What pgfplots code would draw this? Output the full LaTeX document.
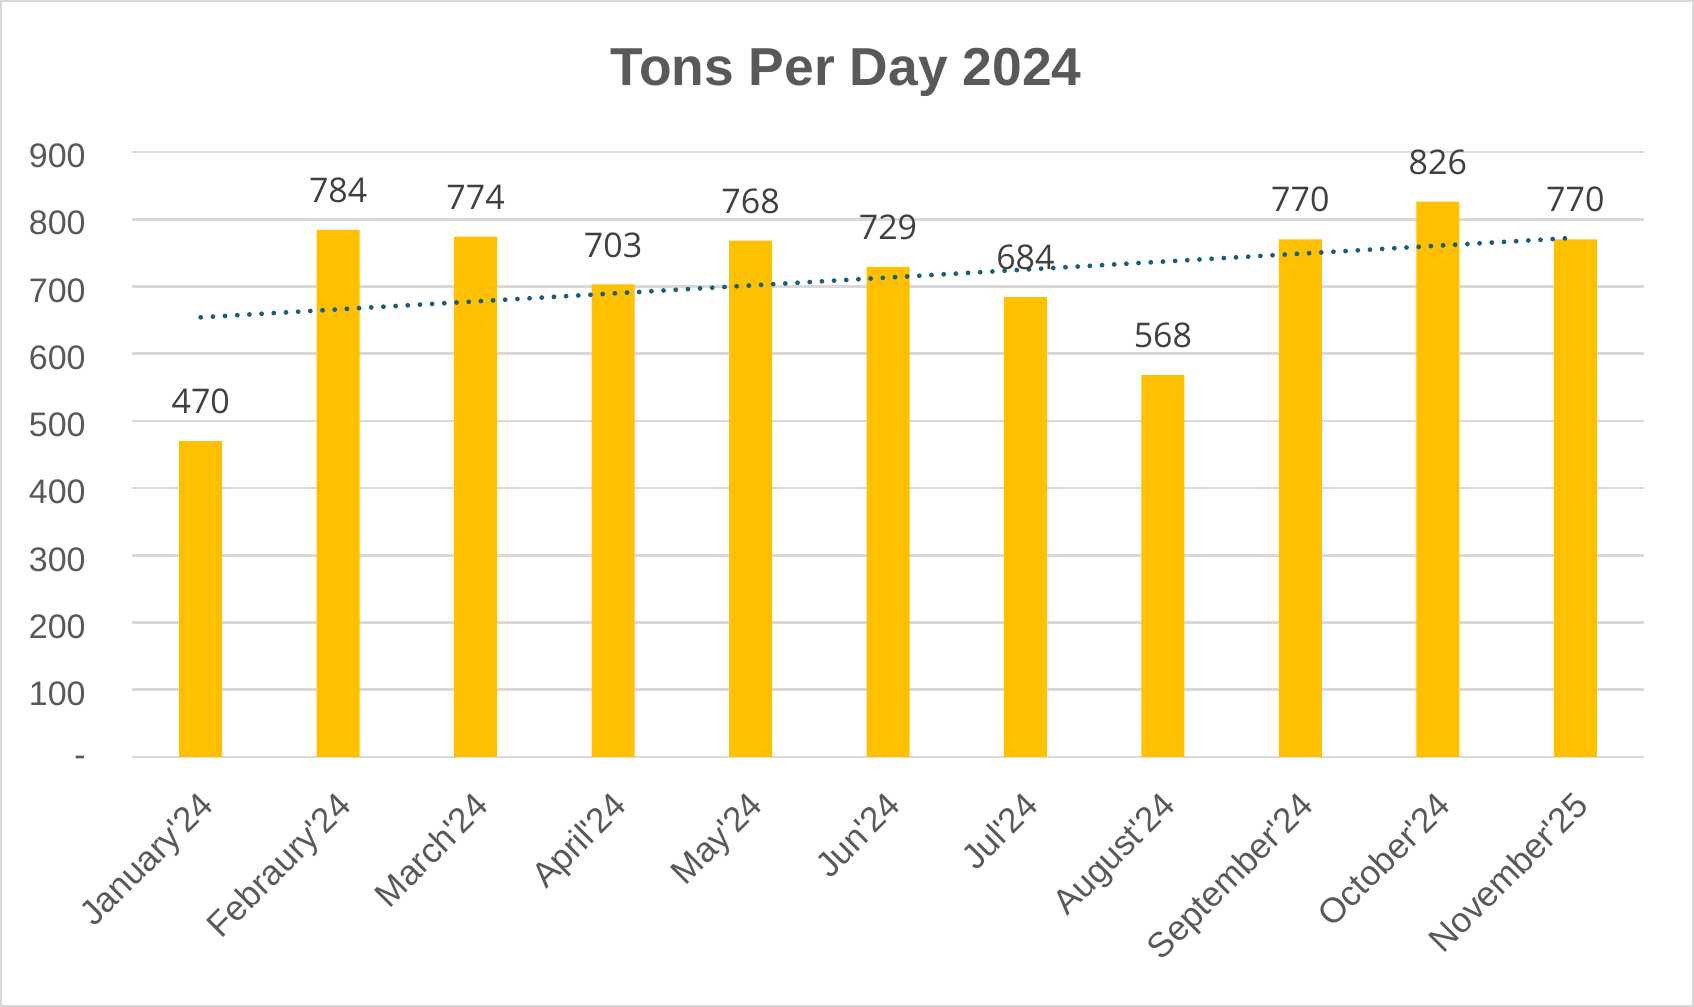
\documentclass[border=0pt]{standalone}
\usepackage{fontspec}
\setmainfont{Liberation Sans}
\newfontfamily\labelfont{Open Sans}
\usepackage{pgfplots}
\pgfplotsset{compat=1.18}
\definecolor{bargold}{HTML}{FFC000}
\definecolor{trendcol}{HTML}{1B5E7A}
\definecolor{gridgray}{HTML}{D9D9D9}
\definecolor{ticktext}{HTML}{595959}
\definecolor{labeltext}{HTML}{404040}
\newcommand{\q}{\textquotesingle}
\begin{document}
\begin{tikzpicture}
\useasboundingbox (0,0) rectangle (847pt,503.5pt);
\draw[gridgray, line width=1.2pt] (0.6pt,0.6pt) rectangle (846.4pt,502.9pt);
\node[font=\fontsize{26.7}{30}\selectfont\bfseries, text=ticktext] at (423pt,467.5pt) {Tons Per Day 2024};
\begin{axis}[
  at={(66pt,125pt)}, anchor=south west,
  scale only axis, width=756pt, height=302.5pt,
  xmin=0.5, xmax=11.5, ymin=0, ymax=900,
  axis line style={draw=none},
  tick style={draw=none},
  ymajorgrids, grid style={gridgray, line width=1.3pt},
  ytick={0,100,...,900},
  yticklabels={\raisebox{-3pt}{-},100,200,300,400,500,600,700,800,900},
  yticklabel style={anchor=east, inner sep=0pt, xshift=-23pt, yshift=-2pt, text=ticktext, font=\fontsize{17}{20}\selectfont},
  xtick={1,...,11},
  xticklabels={January\q24,Febraury\q24,March\q24,April\q24,May\q24,Jun\q24,Jul\q24,August\q24,September\q24,October\q24,November\q25},
  xticklabel style={rotate=45, anchor=north east, inner sep=0pt, xshift=-12.6pt, yshift=-10.4pt, text=ticktext, font=\fontsize{17.5}{20}\selectfont},
  /pgf/number format/assume math mode=true,
  clip=false,
]
\addplot[ybar, bar width=21.5pt, fill=bargold, draw=none,
  nodes near coords,
  nodes near coords style={font=\labelfont\fontsize{17}{20}\selectfont, text=labeltext, yshift=10pt}]
  coordinates {(1,470) (2,784) (3,774) (4,703) (5,768) (6,729) (7,684) (8,568) (9,770) (10,826) (11,770)};
\addplot[trendcol, line width=2.4pt, dash pattern=on 0pt off 6.1pt, line cap=round]
  coordinates {(1,654.09) (11,772.45)};
\end{axis}
\end{tikzpicture}
\end{document}
